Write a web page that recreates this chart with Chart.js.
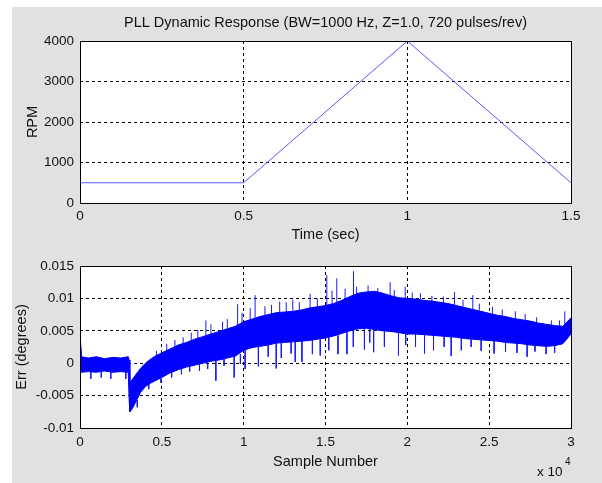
<!DOCTYPE html>
<html>
<head>
<meta charset="utf-8">
<title>PLL Dynamic Response</title>
<script src="https://cdn.jsdelivr.net/npm/chart.js@4.4.1/dist/chart.umd.min.js"></script>
<style>
 body { margin: 0; background: #fff; }
 #figure { position: absolute; left: 12px; top: 7px; width: 590px; height: 476px; background: #e1e1e1; }
 canvas { position: absolute; left: 0; }
 #rpmChart { top: 0; }
 #errChart { top: 245px; }
</style>
</head>
<body>
<div id="figure"></div>
<canvas id="rpmChart" width="602" height="245"></canvas>
<canvas id="errChart" width="602" height="238"></canvas>
<script>
// top plot: speed profile
var timeSec = [0, 0.5, 1, 1.5];
var rpmValues = [500, 500, 4000, 500];
var timeTicks = [0, 0.5, 1, 1.5];
var rpmTicks = [0, 1000, 2000, 3000, 4000];

// bottom plot: error band (upper / lower edge of the noise)
var bandSample = [0, 100, 500, 1000, 1500, 2000, 2500, 2950, 3000, 3050, 3200, 3400, 3700, 4000, 4300, 4600,
 5000, 5500, 6000, 6500, 7000, 7500, 8000, 8500, 9000, 9500, 10000, 10500, 11000, 11500, 12000, 12500,
 13000, 13500, 14000, 14500, 15000, 15500, 16000, 16500, 17000, 17500, 18000, 18500, 19000, 19500, 20000,
 20500, 21000, 21500, 22000, 22500, 23000, 23500, 24000, 24500, 25000, 25500, 26000, 26500, 27000, 27500,
 28000, 28500, 29000, 29500, 30000];
var bandUpper = [0.0045, 0.0010, 0.0008, 0.0010, 0.0007, 0.0009, 0.0008, 0.0010, 0.0005, -0.0030, -0.0025, -0.0018, -0.0008, 0.0000, 0.0006, 0.0011,
 0.0016, 0.0022, 0.0028, 0.0032, 0.0037, 0.0041, 0.0045, 0.0049, 0.0053, 0.0057, 0.0064, 0.0068, 0.0072, 0.0075, 0.0078, 0.0079,
 0.0080, 0.0082, 0.0085, 0.0087, 0.0089, 0.0092, 0.0097, 0.0103, 0.0108, 0.0110, 0.0111, 0.0108, 0.0104, 0.0101, 0.0100,
 0.0099, 0.0097, 0.0096, 0.0094, 0.0092, 0.0089, 0.0086, 0.0083, 0.0080, 0.0077, 0.0074, 0.0072, 0.0069, 0.0067, 0.0065,
 0.0062, 0.0060, 0.0058, 0.0057, 0.0070];
var bandLower = [-0.0014, -0.0014, -0.0013, -0.0014, -0.0012, -0.0014, -0.0013, -0.0014, -0.0055, -0.0075, -0.0070, -0.0060, -0.0045, -0.0036, -0.0031, -0.0027,
 -0.0022, -0.0015, -0.0010, -0.0006, -0.0003, 0.0000, 0.0003, 0.0005, 0.0008, 0.0011, 0.0020, 0.0024, 0.0026, 0.0028, 0.0031, 0.0032,
 0.0033, 0.0034, 0.0035, 0.0037, 0.0039, 0.0042, 0.0046, 0.0050, 0.0053, 0.0054, 0.0052, 0.0050, 0.0049, 0.0047, 0.0045,
 0.0045, 0.0044, 0.0043, 0.0042, 0.0041, 0.0040, 0.0038, 0.0037, 0.0036, 0.0035, 0.0034, 0.0032, 0.0031, 0.0030, 0.0028,
 0.0027, 0.0026, 0.0027, 0.0030, 0.0045];

// single spikes sticking out of the band (sample, start, tip)
var spikeSample = [0, 660, 1300, 1880, 2800, 3500, 4200, 4670, 4940, 5300, 5600, 5800, 6200, 6300, 6700, 6800,
 7200, 7300, 7690, 7800, 8000, 8300, 8710, 8800, 9000, 9420, 9630, 9800, 9900, 10090, 10400, 10700,
 10900, 11300, 11500, 11700, 11990, 12200, 12300, 12600, 12900, 13000, 13150, 13400, 13560, 14060, 14200,
 14500, 14680, 15080, 15200, 15400, 15690, 15760, 16200, 16310, 16700, 16710, 16900, 17380, 17600, 17700,
 17940, 18200, 18600, 18950, 19200, 19460, 19870, 19900, 20300, 20500, 20800, 21050, 21500, 21600, 22200,
 22250, 22680, 22880, 23300, 23400, 23900, 24000, 24400, 24510, 25200, 25300, 25800, 26000, 26600, 26700,
 27200, 27320, 27800, 27900, 28480, 28800, 29000, 29300, 29620];
var spikeFrom = [-0.0010, -0.0013, -0.0013, -0.0013, -0.0013, -0.0057, -0.0032, 0.0010, -0.0022, 0.0018, -0.0014, 0.0025, -0.0008, 0.0030, -0.0005, 0.0035,
 0.0038, -0.0002, 0.0042, 0.0001, 0.0045, 0.0004, 0.0050, 0.0007, 0.0053, 0.0010, 0.0058, 0.0014, 0.0062, 0.0020, 0.0066, 0.0070,
 0.0025, 0.0074, 0.0028, 0.0076, 0.0031, 0.0078, 0.0031, 0.0079, 0.0033, 0.0080, 0.0033, 0.0082, 0.0034, 0.0085, 0.0035,
 0.0087, 0.0037, 0.0089, 0.0040, 0.0091, 0.0093, 0.0043, 0.0099, 0.0048, 0.0051, 0.0105, 0.0107, 0.0054, 0.0110, 0.0054,
 0.0052, 0.0110, 0.0050, 0.0104, 0.0103, 0.0047, 0.0100, 0.0045, 0.0099, 0.0045, 0.0098, 0.0044, 0.0096, 0.0043, 0.0093,
 0.0042, 0.0041, 0.0090, 0.0039, 0.0087, 0.0037, 0.0083, 0.0081, 0.0036, 0.0076, 0.0034, 0.0073, 0.0032, 0.0069, 0.0031,
 0.0066, 0.0029, 0.0027, 0.0062, 0.0026, 0.0059, 0.0027, 0.0057, 0.0057];
var spikeTo = [0.0076, -0.0024, -0.0022, -0.0024, -0.0024, -0.0068, -0.0040, 0.0019, -0.0030, 0.0030, -0.0022, 0.0036, -0.0017, 0.0040, -0.0013, 0.0047,
 0.0052, -0.0012, 0.0066, -0.0009, 0.0060, -0.0027, 0.0064, -0.0004, 0.0068, -0.0022, 0.0091, -0.0001, 0.0078, -0.0009, 0.0085, 0.0105,
 -0.0005, 0.0088, 0.0010, 0.0090, -0.0008, 0.0095, 0.0008, 0.0094, 0.0015, 0.0098, 0.0002, 0.0094, 0.0002, 0.0107, 0.0014,
 0.0100, 0.0012, 0.0136, 0.0020, 0.0112, 0.0131, 0.0014, 0.0115, 0.0014, 0.0025, 0.0142, 0.0118, 0.0021, 0.0120, 0.0032,
 0.0017, 0.0116, 0.0025, 0.0125, 0.0113, 0.0012, 0.0118, 0.0028, 0.0109, 0.0025, 0.0108, 0.0015, 0.0104, 0.0020, 0.0103,
 0.0025, 0.0011, 0.0110, 0.0020, 0.0098, 0.0025, 0.0105, 0.0092, 0.0019, 0.0087, 0.0015, 0.0083, 0.0018, 0.0080, 0.0016,
 0.0076, 0.0010, 0.0018, 0.0071, 0.0014, 0.0066, 0.0016, 0.0066, 0.0080];
var sampleTicks = [0, 5000, 10000, 15000, 20000, 25000, 30000];
var errTicks = [-0.01, -0.005, 0, 0.005, 0.01, 0.015];

var fontFamily = "'Liberation Sans', Arial, Helvetica, sans-serif";
Chart.defaults.font.family = fontFamily;
Chart.defaults.font.size = 13.5;
Chart.defaults.color = "#111";
var labelFont = { size: 14.5, weight: "normal" };

// white plot box + solid frame like matlab axes
var plotFrame = {
 id: "plotFrame",
 beforeDraw: function (chart) {
  var a = chart.chartArea;
  var ctx = chart.ctx;
  ctx.save();
  ctx.fillStyle = "#fff";
  ctx.fillRect(a.left, a.top, a.right - a.left, a.bottom - a.top);
  ctx.restore();
 },
 afterDraw: function (chart) {
  var a = chart.chartArea;
  var ctx = chart.ctx;
  ctx.save();
  ctx.strokeStyle = "#000";
  ctx.lineWidth = 1;
  ctx.setLineDash([]);
  ctx.strokeRect(a.left + 0.5, a.top + 0.5, a.right - a.left, a.bottom - a.top);
  ctx.restore();
 },
};

// "x 10^4" under the bottom right corner
var exponentLabel = {
 id: "exponentLabel",
 afterDraw: function (chart) {
  var ctx = chart.ctx;
  ctx.save();
  ctx.fillStyle = "#111";
  ctx.textBaseline = "middle";
  ctx.font = "13.5px " + fontFamily;
  ctx.fillText("x 10", 537, 227);
  ctx.font = "10px " + fontFamily;
  ctx.fillText("4", 565, 217);
  ctx.restore();
 },
};

function fixedTicks(values) {
 return function (scale) {
  scale.ticks = values.map(function (v) {
   return { value: v };
  });
 };
}

function gridOpts() {
 return { color: "#000", lineWidth: 1, drawTicks: false };
}

function borderOpts() {
 return { display: false, dash: [3, 3] };
}

function drawRpmChart() {
 var points = timeSec.map(function (t, i) {
  return { x: t, y: rpmValues[i] };
 });

 new Chart(document.getElementById("rpmChart"), {
  type: "line",
  data: {
   datasets: [
    {
     data: points,
     borderColor: "rgb(90,90,255)",
     borderWidth: 1,
     pointRadius: 0,
     fill: false,
    },
   ],
  },
  options: {
   responsive: false,
   animation: false,
   devicePixelRatio: 1,
   layout: { padding: { left: 0, right: 31, top: 0, bottom: 0 } },
   plugins: {
    legend: { display: false },
    tooltip: { enabled: false },
    title: {
     display: true,
     fullSize: false,
     text: "PLL Dynamic Response (BW=1000 Hz, Z=1.0, 720 pulses/rev)",
     font: labelFont,
     padding: { top: 14, bottom: 9.6 },
    },
   },
   scales: {
    x: {
     type: "linear",
     min: 0,
     max: 1.5,
     afterBuildTicks: fixedTicks(timeTicks),
     afterFit: function (s) { s.height = 42; },
     grid: gridOpts(),
     border: borderOpts(),
     ticks: { padding: 5.5, callback: function (v) { return String(v); } },
     title: { display: true, text: "Time (sec)", font: labelFont, padding: { top: 1.5, bottom: 1.5 } },
    },
    y: {
     min: 0,
     max: 4000,
     afterBuildTicks: fixedTicks(rpmTicks),
     afterFit: function (s) { s.width = 80; },
     grid: gridOpts(),
     border: borderOpts(),
     ticks: { padding: 6, callback: function (v) { return String(v); } },
     title: { display: true, text: "RPM", font: labelFont, padding: { top: 24, bottom: 0 } },
    },
   },
  },
  plugins: [plotFrame],
 });
}

function drawErrChart() {
 var upper = bandSample.map(function (n, i) {
  return { x: n, y: bandUpper[i] };
 });
 var lower = bandSample.map(function (n, i) {
  return { x: n, y: bandLower[i] };
 });
 var spikes = [];
 spikeSample.forEach(function (n, i) {
  spikes.push({ x: n, y: spikeFrom[i] });
  spikes.push({ x: n, y: spikeTo[i] });
  spikes.push({ x: n, y: null });
 });

 new Chart(document.getElementById("errChart"), {
  type: "line",
  data: {
   datasets: [
    { data: upper, borderColor: "#0000ff", backgroundColor: "#0000ff", borderWidth: 1, pointRadius: 0, fill: "+1" },
    { data: lower, borderColor: "#0000ff", borderWidth: 1, pointRadius: 0, fill: false },
    { data: spikes, borderColor: "#1a1aff", borderWidth: 1, pointRadius: 0, fill: false, spanGaps: false },
   ],
  },
  options: {
   responsive: false,
   animation: false,
   devicePixelRatio: 1,
   layout: { padding: { left: 0, right: 31, top: 21, bottom: 0 } },
   plugins: {
    legend: { display: false },
    tooltip: { enabled: false },
   },
   scales: {
    x: {
     type: "linear",
     min: 0,
     max: 30000,
     afterBuildTicks: fixedTicks(sampleTicks),
     afterFit: function (s) { s.height = 55; },
     grid: gridOpts(),
     border: borderOpts(),
     ticks: { padding: 6, callback: function (v) { return String(v / 10000); } },
     title: { display: true, text: "Sample Number", font: labelFont, padding: { top: 12.5, bottom: 12.5 } },
    },
    y: {
     min: -0.01,
     max: 0.015,
     afterBuildTicks: fixedTicks(errTicks),
     afterFit: function (s) { s.width = 80; },
     grid: gridOpts(),
     border: borderOpts(),
     ticks: { padding: 6, callback: function (v) { return String(Math.round(v * 1000) / 1000); } },
     title: { display: true, text: "Err (degrees)", font: labelFont, padding: { top: 13, bottom: 0 } },
    },
   },
  },
  plugins: [plotFrame, exponentLabel],
 });
}

drawRpmChart();
drawErrChart();
</script>
</body>
</html>
